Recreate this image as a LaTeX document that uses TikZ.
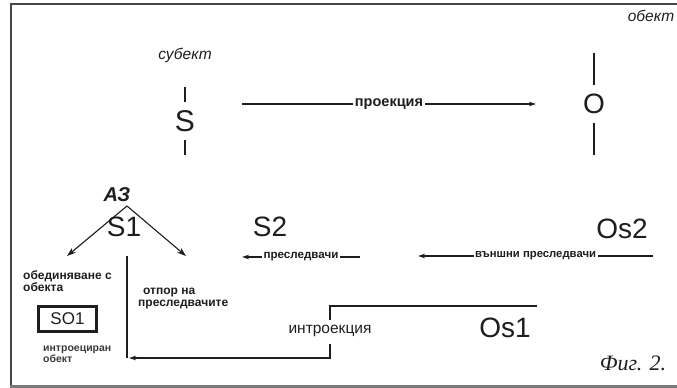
\documentclass[tikz,border=0pt]{standalone}
\usepackage{fontspec}
\setmainfont{Liberation Sans}
\newfontfamily\figserif{Liberation Serif}
\usetikzlibrary{arrows.meta}
\definecolor{ink}{HTML}{1E1E1E}
\definecolor{frameink}{HTML}{474747}
\definecolor{lowband}{HTML}{7A7A7A}
\definecolor{greyink}{HTML}{3A3A3A}
\tikzset{
  big/.style={inner sep=0pt,text=ink,font=\fontsize{28}{28}\selectfont},
  lbl/.style={inner sep=1.5pt,fill=white,text=ink,font=\bfseries\fontsize{11.6}{12}\selectfont},
  note/.style={inner sep=0pt,text=ink,anchor=base west,font=\bfseries\fontsize{12}{14}\selectfont},
  ital/.style={inner sep=0pt,text=ink,font=\itshape\fontsize{15.5}{15.5}\selectfont},
  conn/.style={draw=ink,line width=1.1pt},
  tip/.style={-{Stealth[length=7pt,width=4.5pt]}},
  tick/.style={draw=ink,line width=1.2pt}
}
\begin{document}
\begin{tikzpicture}[x=1pt,y=-1pt]
\useasboundingbox (0,0) rectangle (677,388);
\fill[white] (0,0) rectangle (677,388);
% frame
\draw[frameink,line width=2pt] (677,3.5) -- (10.5,3.5) -- (10.5,386);
\fill[lowband] (10,385) rectangle (677,388);

% top row
\node[ital] (subj) at (185,55) {субект};
\node[ital] (obj) at (651,16) {обект};
\node[big,font=\fontsize{30}{30}\selectfont] (S) at (185,121) {S};
\node[big] (O) at (594,104) {O};
\coordinate (St1) at (185,87);
\coordinate (St2) at (185,102);
\coordinate (Sb1) at (185,140);
\coordinate (Sb2) at (185,155);
\draw[tick] (St1) -- (St2);
\draw[tick] (Sb1) -- (Sb2);
\coordinate (Ot1) at (594,53);
\coordinate (Ot2) at (594,85);
\coordinate (Ob1) at (594,123);
\coordinate (Ob2) at (594,155);
\draw[tick] (Ot1) -- (Ot2);
\draw[tick] (Ob1) -- (Ob2);
\coordinate (p1) at (242,104);
\coordinate (p2) at (536,104);
\draw[conn,tip] (p1) -- node[lbl,font=\bfseries\fontsize{14.5}{15}\selectfont] (proj) {проекция} (p2);

% middle row
\node[inner sep=0pt,text=ink,font=\bfseries\itshape\fontsize{20}{20}\selectfont] (az) at (117,195) {АЗ};
\coordinate (apex) at (127,206);
\coordinate (la) at (67,256);
\coordinate (ra) at (186,256);
\draw[conn,-{Stealth[length=9pt,width=6pt]}] (apex) -- (la);
\draw[conn,-{Stealth[length=9pt,width=6pt]}] (apex) -- (ra);
\node[big] (S1) at (124,227) {S1};
\node[big] (S2) at (270,227) {S2};
\node[big] (Os2) at (622,229) {Os2};
\coordinate (q1) at (360,257);
\coordinate (q2) at (242,257);
\draw[conn,tip] (q1) -- node[lbl] (purs) {преследвачи} (q2);
\coordinate (r1) at (653,256);
\coordinate (r2) at (418,256);
\draw[conn,tip,font=\bfseries\fontsize{11.3}{12}\selectfont] (r1) -- node[lbl,font=\bfseries\fontsize{11.3}{12}\selectfont] (ext) {външни преследвачи} (r2);

% lower part
\node[note] (unite1) at (23,279.5) {обединяване с};
\node[note] (unite2) at (23,291.5) {обекта};
\node[note] (resist1) at (143,294.5) {отпор на};
\node[note] (resist2) at (138,306.5) {преследвачите};
\node[draw=ink,line width=2.4pt,minimum width=58pt,minimum height=25pt,inner sep=0pt,
      text=ink,font=\fontsize{17}{17}\selectfont] (SO1) at (67.5,319) {SO1};
\node[note,text=greyink,font=\bfseries\fontsize{10.5}{13}\selectfont] (introobj1) at (43,351.5) {интроециран};
\node[note,text=greyink,font=\bfseries\fontsize{10.5}{13}\selectfont] (introobj2) at (43,362.5) {обект};
\node[big] (Os1) at (505,328) {Os1};
\node[inner sep=0pt,text=ink,font=\fontsize{15.5}{16}\selectfont] (intro) at (330,331) {интроекция};

\coordinate (v1) at (127,256);
\coordinate (v2) at (127,358);
\draw[conn] (v1) -- (v2);
\coordinate (i0) at (537,306);
\coordinate (i1) at (330,306);
\coordinate (i2) at (330,320);
\coordinate (i3) at (330,344);
\coordinate (i4) at (330,358);
\coordinate (i5) at (129,358);
\draw[conn] (i0) -- (i1) -- (i2);
\draw[conn,tip] (i3) -- (i4) -- (i5);

\node[inner sep=0pt,text=ink,font=\figserif\itshape\fontsize{22}{22}\selectfont] (fig) at (633,363) {Фиг. 2.};
\end{tikzpicture}
\end{document}
